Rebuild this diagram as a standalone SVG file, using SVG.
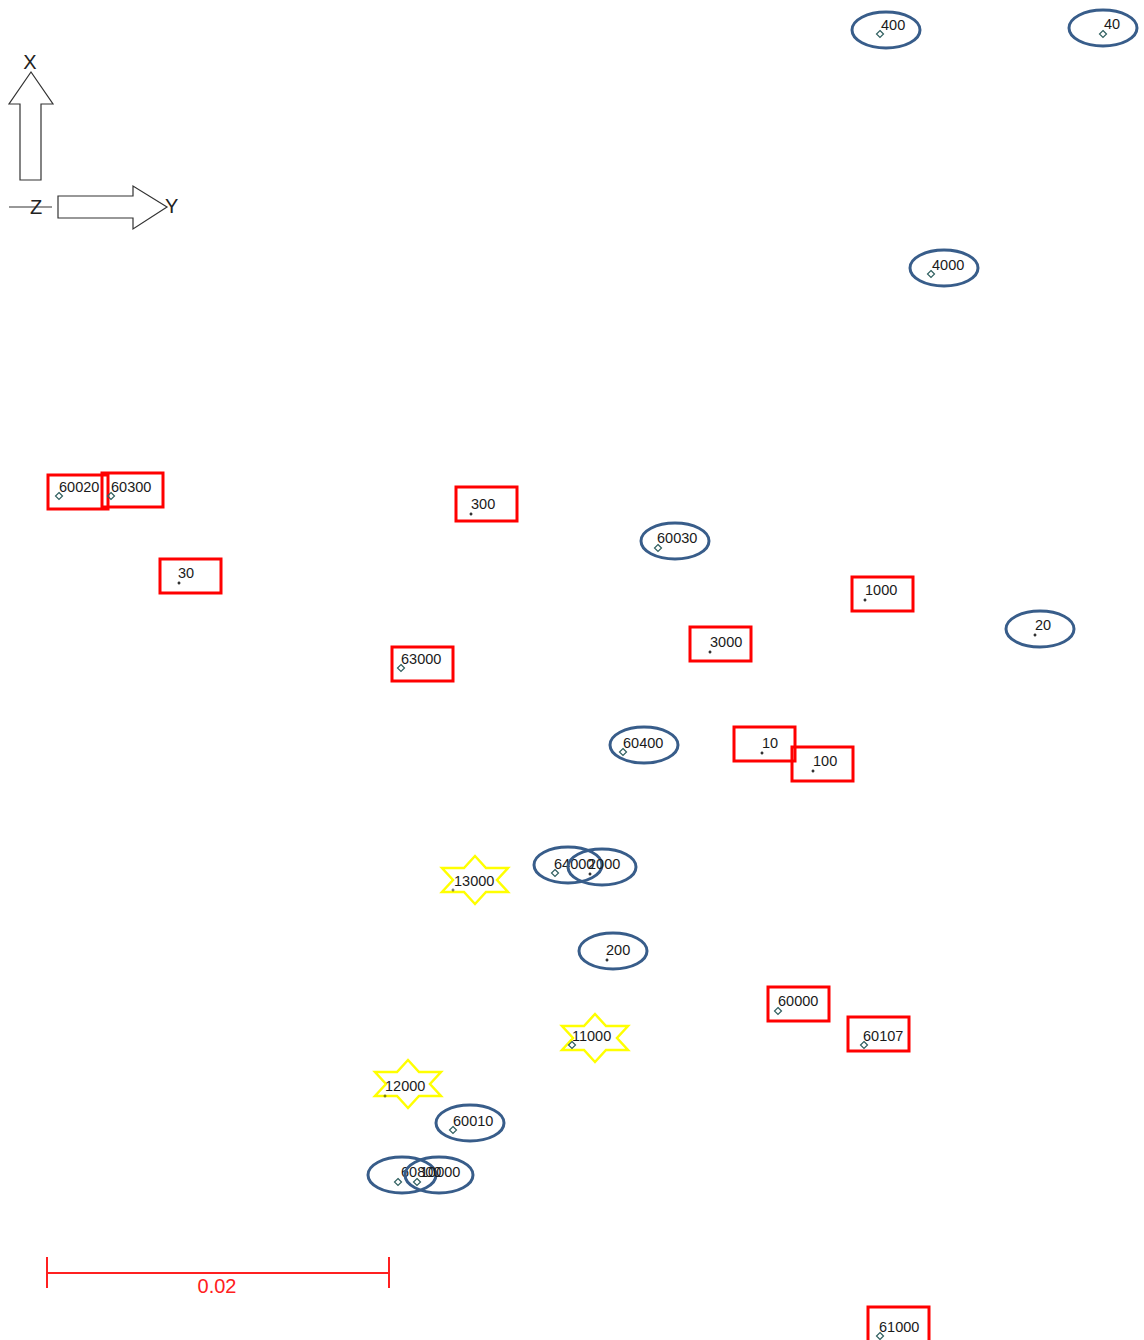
<svg xmlns="http://www.w3.org/2000/svg" xmlns:xlink="http://www.w3.org/1999/xlink" width="1144" height="1340" viewBox="0 0 1144 1340">
<style>
text{font-family:"Liberation Sans",Arial,sans-serif;font-size:14.5px;fill:#1a1a1a}
.r{fill:none;stroke:#ff0000;stroke-width:3}
.e{fill:none;stroke:#385d8a;stroke-width:3}
.s{fill:none;stroke:#ffff00;stroke-width:2.5;stroke-linejoin:miter}
.ax{fill:#fff;stroke:#333;stroke-width:1.2}
.axt{font-size:20px;fill:#222}
.sc{stroke:#ff2020;stroke-width:2;fill:none}
</style>
<defs>
<path id="dm" d="M0,-3.5L3.5,0L0,3.5L-3.5,0Z" fill="none" stroke="#2f5f5f" stroke-width="1.2"/>
<path id="dt" d="M-1.5,0H1.5M0,-1.5V1.5" fill="none" stroke="#000" stroke-width="1.2"/>
<path id="st" d="M0,-24L11,-12L33,-12L22,0L33,12L11,12L0,24L-11,12L-33,12L-22,0L-33,-12L-11,-12Z" class="s"/>
</defs>
<rect width="1144" height="1340" fill="#fff"/>
<g id="axes">
<path class="ax" d="M20,180V104H9L31,72L53,104H41V180Z"/>
<path class="ax" d="M58,196H133V186L167,207L133,229V218H58Z"/>
<line x1="9" y1="207" x2="52" y2="207" stroke="#333" stroke-width="1.2"/>
<text class="axt" x="30" y="69" text-anchor="middle">X</text>
<text class="axt" x="36" y="214" text-anchor="middle">Z</text>
<text class="axt" x="165" y="213">Y</text>
</g>
<g id="connectors"></g>
<g id="n400"><ellipse class="e" cx="886" cy="30" rx="34" ry="18"/><use href="#dm" x="880" y="34"/><text x="881" y="30">400</text></g>
<g id="n40"><ellipse class="e" cx="1103" cy="28" rx="34" ry="18"/><use href="#dm" x="1103" y="34"/><text x="1104" y="29">40</text></g>
<g id="n4000"><ellipse class="e" cx="944" cy="268" rx="34" ry="18"/><use href="#dm" x="931" y="274"/><text x="932" y="270">4000</text></g>
<g id="n60020"><rect class="r" x="48" y="475" width="60" height="34"/><use href="#dm" x="59" y="496"/><text x="59" y="492">60020</text></g>
<g id="n60300"><rect class="r" x="102" y="473" width="61" height="34"/><use href="#dm" x="111" y="496"/><text x="111" y="492">60300</text></g>
<g id="n300"><rect class="r" x="456" y="487" width="61" height="34"/><use href="#dt" x="471" y="514"/><text x="471" y="509">300</text></g>
<g id="n60030"><ellipse class="e" cx="675" cy="541" rx="34" ry="18"/><use href="#dm" x="658" y="548"/><text x="657" y="543">60030</text></g>
<g id="n30"><rect class="r" x="160" y="559" width="61" height="34"/><use href="#dt" x="179" y="583"/><text x="178" y="578">30</text></g>
<g id="n1000"><rect class="r" x="852" y="577" width="61" height="34"/><use href="#dt" x="865" y="600"/><text x="865" y="595">1000</text></g>
<g id="n20"><ellipse class="e" cx="1040" cy="629" rx="34" ry="18"/><use href="#dt" x="1035" y="635"/><text x="1035" y="630">20</text></g>
<g id="n3000"><rect class="r" x="690" y="627" width="61" height="34"/><use href="#dt" x="710" y="652"/><text x="710" y="647">3000</text></g>
<g id="n63000"><rect class="r" x="392" y="647" width="61" height="34"/><use href="#dm" x="401" y="668"/><text x="401" y="664">63000</text></g>
<g id="n60400"><ellipse class="e" cx="644" cy="745" rx="34" ry="18"/><use href="#dm" x="623" y="752"/><text x="623" y="748">60400</text></g>
<g id="n10"><rect class="r" x="734" y="727" width="61" height="34"/><use href="#dt" x="762" y="753"/><text x="762" y="748">10</text></g>
<g id="n100"><rect class="r" x="792" y="747" width="61" height="34"/><use href="#dt" x="813" y="771"/><text x="813" y="766">100</text></g>
<g id="n13000"><use href="#st" x="475" y="880"/><use href="#dt" x="453" y="890" opacity="0.6"/><text x="454" y="886">13000</text></g>
<g id="n64000"><ellipse class="e" cx="568" cy="865" rx="34" ry="18"/><use href="#dm" x="555" y="873"/><text x="554" y="869">64000</text></g>
<g id="n2000"><ellipse class="e" cx="602" cy="867" rx="34" ry="18"/><use href="#dt" x="590" y="874"/><text x="588" y="869">2000</text></g>
<g id="n200"><ellipse class="e" cx="613" cy="951" rx="34" ry="18"/><use href="#dt" x="607" y="960"/><text x="606" y="955">200</text></g>
<g id="n60000"><rect class="r" x="768" y="987" width="61" height="34"/><use href="#dm" x="778" y="1011"/><text x="778" y="1006">60000</text></g>
<g id="n60107"><rect class="r" x="848" y="1017" width="61" height="34"/><use href="#dm" x="864" y="1045"/><text x="863" y="1041">60107</text></g>
<g id="n11000"><use href="#st" x="595" y="1038"/><use href="#dm" x="572" y="1045"/><text x="572" y="1041">11000</text></g>
<g id="n12000"><use href="#st" x="408" y="1084"/><use href="#dt" x="385" y="1096" opacity="0.6"/><text x="385" y="1091">12000</text></g>
<g id="n60010"><ellipse class="e" cx="470" cy="1123" rx="34" ry="18"/><use href="#dm" x="453" y="1130"/><text x="453" y="1126">60010</text></g>
<g id="n60800"><ellipse class="e" cx="402" cy="1175" rx="34" ry="18"/><use href="#dm" x="398" y="1182"/><text x="401" y="1177">60800</text></g>
<g id="n10000"><ellipse class="e" cx="439" cy="1175" rx="34" ry="18"/><use href="#dm" x="417" y="1182"/><text x="420" y="1177">10000</text></g>
<g id="n61000"><rect class="r" x="868" y="1307" width="61" height="36"/><use href="#dm" x="880" y="1336"/><text x="879" y="1332">61000</text></g>
<g id="scale">
<path class="sc" d="M47,1273H389M47,1257V1288M389,1257V1288"/>
<text x="217" y="1293" text-anchor="middle" style="font-size:20px;fill:#ff2020">0.02</text>
</g>
</svg>
